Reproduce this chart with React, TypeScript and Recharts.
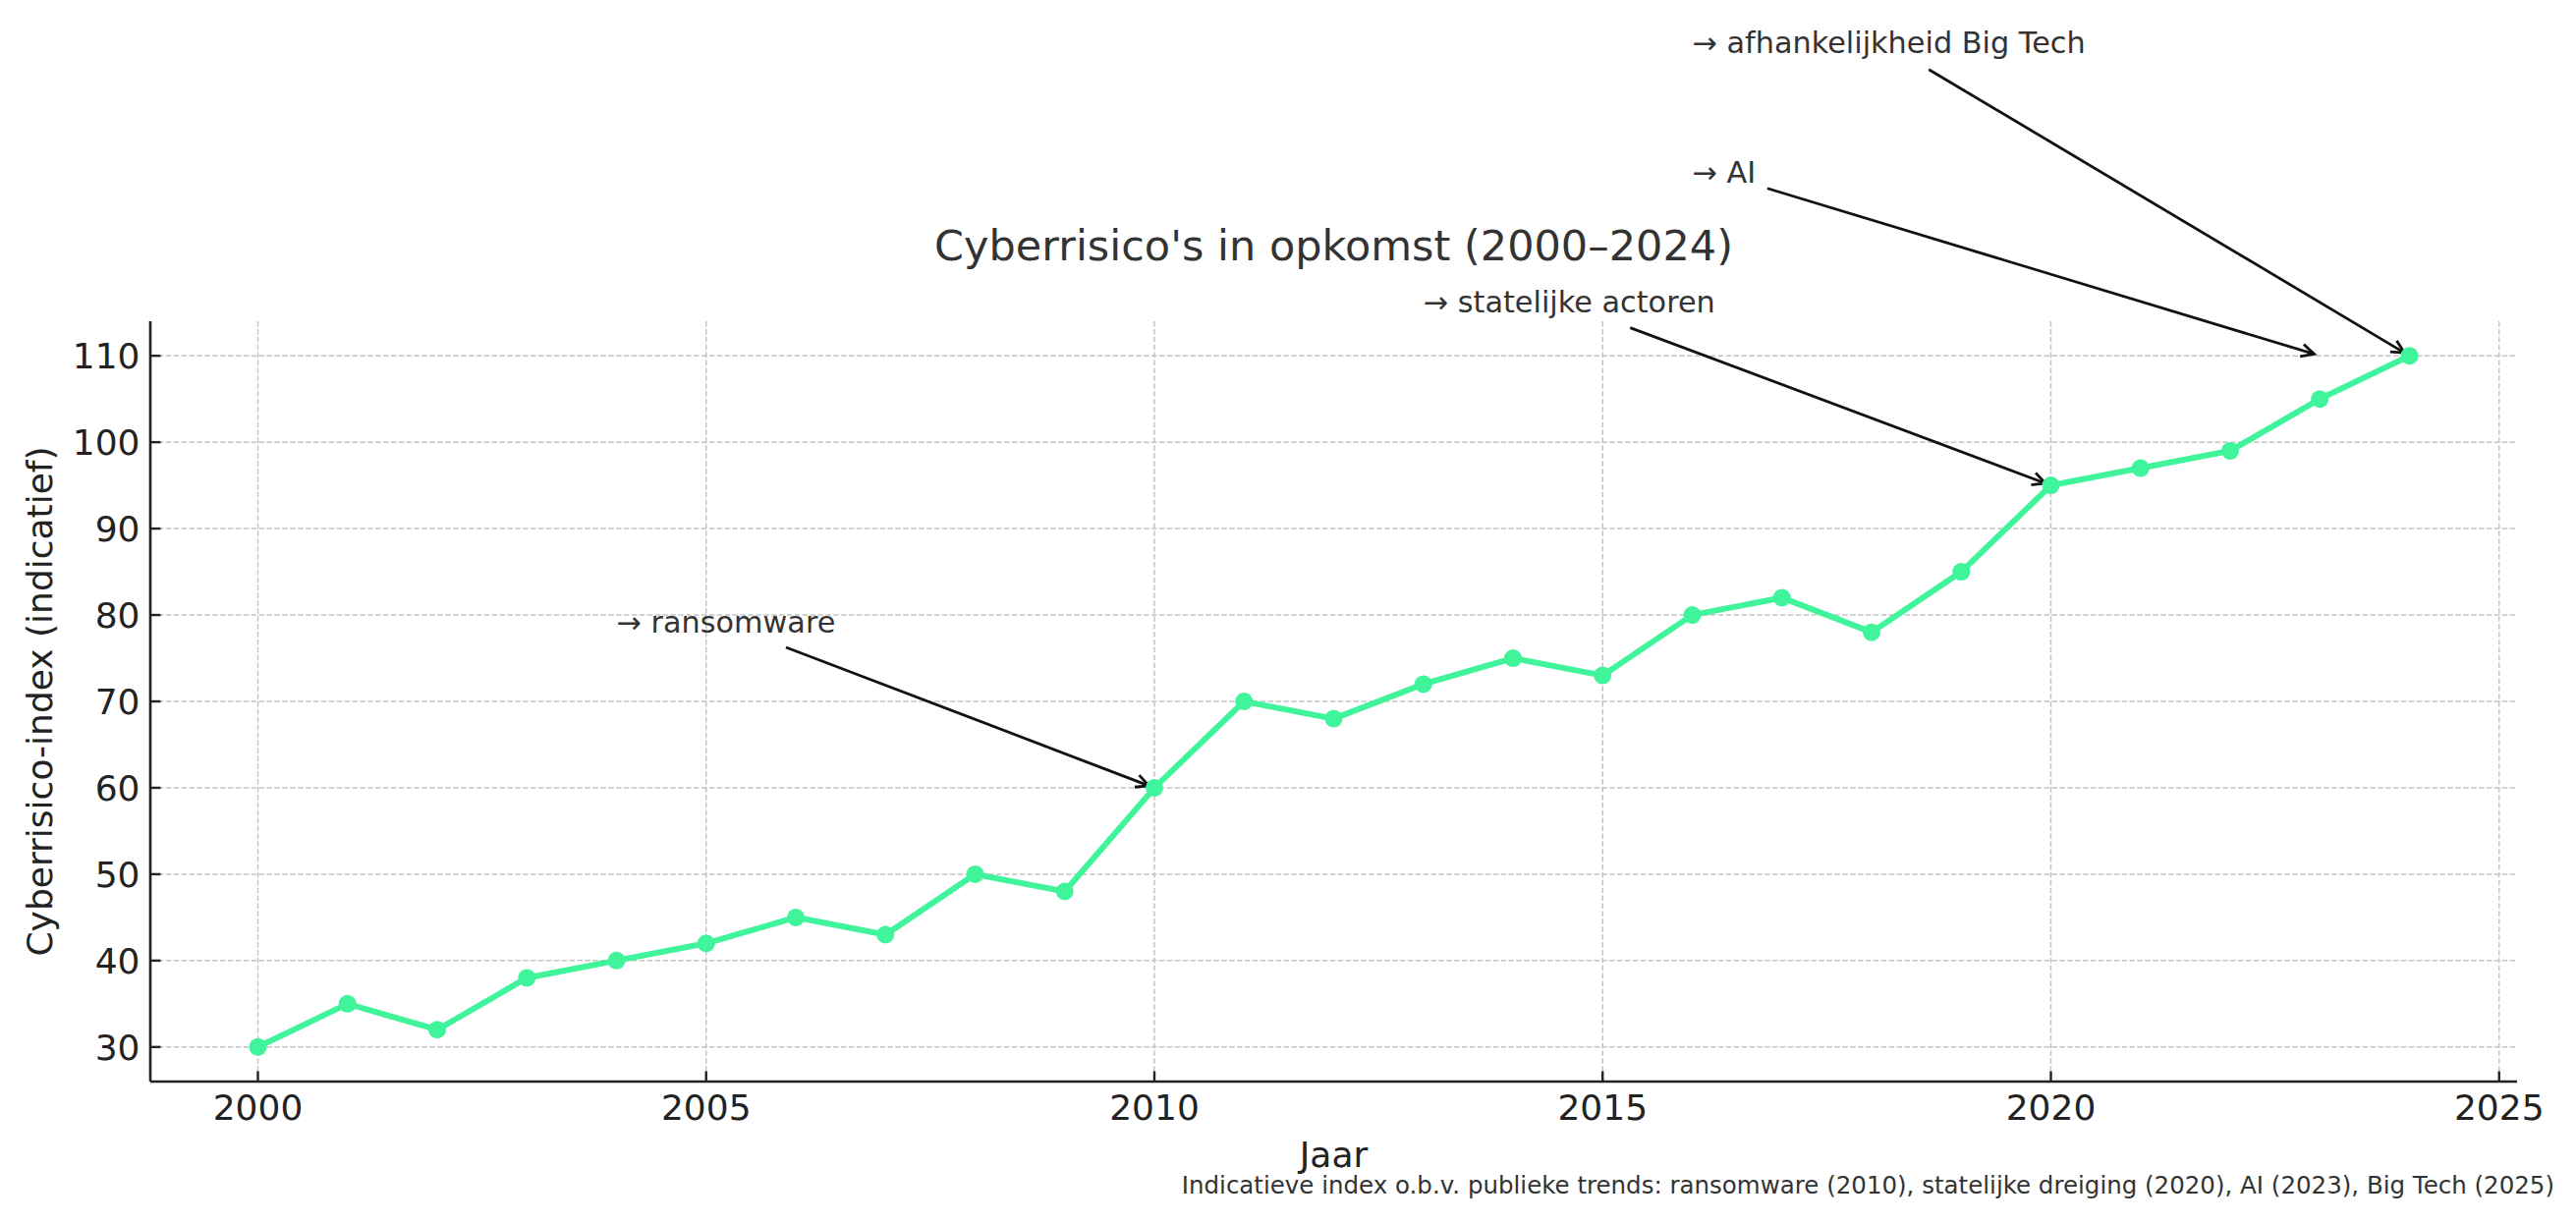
import React from 'react';
import { LineChart, Line, XAxis, YAxis, CartesianGrid, ReferenceLine } from 'recharts';

// ---- data ----
const years = [2000, 2001, 2002, 2003, 2004, 2005, 2006, 2007, 2008, 2009, 2010, 2011, 2012, 2013, 2014, 2015, 2016, 2017, 2018, 2019, 2020, 2021, 2022, 2023, 2024];
const riskIndex = [30, 35, 32, 38, 40, 42, 45, 43, 50, 48, 60, 70, 68, 72, 75, 73, 80, 82, 78, 85, 95, 97, 99, 105, 110];
const xTicks = [2000, 2005, 2010, 2015, 2020, 2025];
const yTicks = [30, 40, 50, 60, 70, 80, 90, 100, 110];

const annotationLabels = ['→ ransomware', '→ statelijke actoren', '→ AI', '→ afhankelijkheid Big Tech'];
const annotationTargetYears = [2010, 2020, 2023, 2024];
const annotationTargetValues = [60, 95, 110, 110];
const annotationTextYears = [2004, 2013, 2016, 2016];
const annotationTextValues = [78, 115, 130, 145];

const titleText = "Cyberrisico's in opkomst (2000–2024)";
const xLabelText = 'Jaar';
const yLabelText = 'Cyberrisico-index (indicatief)';
const footnoteText = 'Indicatieve index o.b.v. publieke trends: ransomware (2010), statelijke dreiging (2020), AI (2023), Big Tech (2025)';

const data = years.map((year, i) => ({ year, value: riskIndex[i] }));

// ---- styling ----
const W = 2622;
const H = 1246;
const FONT = '"DejaVu Sans", sans-serif';
const LINE_COLOR = '#3ff49b';
const TEXT_DARK = '#222222';
const TEXT_GREY = '#333333';
const PLOT_LEFT = 153;
const PLOT_TOP = 327;
const PLOT_RIGHT_MARGIN = 60;
const X_AXIS_H = 145;
const PLOT_CX = (PLOT_LEFT + (W - PLOT_RIGHT_MARGIN)) / 2;
const PLOT_CY = (PLOT_TOP + (H - X_AXIS_H)) / 2;

let ctx: CanvasRenderingContext2D | null = null;
function measure(text: string, size: number): number {
  if (!ctx) {
    const c = document.createElement('canvas');
    ctx = c.getContext('2d');
  }
  if (!ctx) return text.length * size * 0.55;
  ctx.font = `${size}px "DejaVu Sans"`;
  return ctx.measureText(text).width;
}

function XTick(props: any) {
  const { x, y, payload } = props;
  return (
    <g>
      <line x1={x} x2={x} y1={y} y2={y - 10.5} stroke="#222" strokeWidth={2.4} />
      <text x={x} y={y + 39} textAnchor="middle" fontSize={36} fontFamily={FONT} fill={TEXT_DARK}>
        {payload.value}
      </text>
    </g>
  );
}

function YTick(props: any) {
  const { x, y, payload } = props;
  return (
    <g>
      <line x1={x} x2={x + 10.5} y1={y} y2={y} stroke="#222" strokeWidth={2.4} />
      <text x={x - 10.5} y={y + 13} textAnchor="end" fontSize={36} fontFamily={FONT} fill={TEXT_DARK}>
        {payload.value}
      </text>
    </g>
  );
}

const makeAnnotation = (label: string) => (props: any) => {
  const { x1, y1, x2, y2 } = props;
  const fs = 30.3;
  const w = measure(label, fs);
  const cx = x1 + w / 2;
  const cy = y1 - ((0.76 - 0.24) / 2) * fs;
  const pad = 6;
  const left = x1 - pad;
  const right = x1 + w + pad;
  const top = y1 - 0.76 * fs - pad;
  const bottom = y1 + 0.24 * fs + pad;
  const dx = x2 - cx;
  const dy = y2 - cy;
  const len = Math.hypot(dx, dy) || 1;
  const ux = dx / len;
  const uy = dy / len;
  let t = Infinity;
  if (dx > 0) t = Math.min(t, (right - cx) / dx);
  else if (dx < 0) t = Math.min(t, (left - cx) / dx);
  if (dy > 0) t = Math.min(t, (bottom - cy) / dy);
  else if (dy < 0) t = Math.min(t, (top - cy) / dy);
  if (!isFinite(t)) t = 0;
  const shrink = 6;
  const sx = cx + dx * t + ux * shrink;
  const sy = cy + dy * t + uy * shrink;
  const ex = x2 - ux * shrink;
  const ey = y2 - uy * shrink;
  const hl = 13;
  const hw = 6.5;
  const bx = ex - ux * hl;
  const by = ey - uy * hl;
  const a1x = bx - uy * hw;
  const a1y = by + ux * hw;
  const a2x = bx + uy * hw;
  const a2y = by - ux * hw;
  return (
    <g>
      <text x={x1} y={y1} fontSize={fs} fontFamily={FONT} fill={TEXT_GREY}>
        {label}
      </text>
      <path d={`M${sx},${sy} L${ex},${ey}`} stroke="#111" strokeWidth={2.8} fill="none" />
      <path
        d={`M${a1x},${a1y} L${ex},${ey} L${a2x},${a2y}`}
        stroke="#111"
        strokeWidth={2.8}
        fill="none"
        strokeLinejoin="miter"
      />
    </g>
  );
};

export default function App() {
  return (
    <div style={{ position: 'absolute', left: 0, top: 0, width: W, height: H, background: '#fff' }}>
      <LineChart
        width={W}
        height={H}
        data={data}
        margin={{ top: PLOT_TOP, right: PLOT_RIGHT_MARGIN, left: 0, bottom: 0 }}
      >
        <CartesianGrid stroke="#c4c4c4" strokeWidth={1.5} strokeDasharray="5.5 2.4" syncWithTicks />
        <XAxis
          dataKey="year"
          type="number"
          domain={[1998.8, 2025.2]}
          allowDataOverflow
          ticks={xTicks}
          interval={0}
          height={X_AXIS_H}
          tickLine={false}
          tickSize={0}
          tickMargin={0}
          tick={<XTick />}
          axisLine={{ stroke: '#222', strokeWidth: 2.6 }}
        />
        <YAxis
          type="number"
          domain={[26, 114]}
          allowDataOverflow
          ticks={yTicks}
          interval={0}
          width={PLOT_LEFT}
          tickLine={false}
          tickSize={0}
          tickMargin={0}
          tick={<YTick />}
          axisLine={{ stroke: '#222', strokeWidth: 2.6 }}
        />
        <Line
          type="linear"
          dataKey="value"
          stroke={LINE_COLOR}
          strokeWidth={6}
          dot={{ r: 9, fill: LINE_COLOR, stroke: LINE_COLOR, strokeWidth: 0 }}
          activeDot={false}
          isAnimationActive={false}
        />
        {annotationLabels.map((label, i) => (
          <ReferenceLine
            key={label}
            segment={[
              { x: annotationTextYears[i], y: annotationTextValues[i] },
              { x: annotationTargetYears[i], y: annotationTargetValues[i] },
            ]}
            ifOverflow="visible"
            shape={makeAnnotation(label)}
          />
        ))}
        <text x={PLOT_CX} y={265} textAnchor="middle" fontSize={43} fontFamily={FONT} fill={TEXT_GREY}>
          {titleText}
        </text>
        <text x={PLOT_CX} y={1188} textAnchor="middle" fontSize={36} fontFamily={FONT} fill={TEXT_DARK}>
          {xLabelText}
        </text>
        <text
          x={53}
          y={PLOT_CY}
          textAnchor="middle"
          fontSize={36}
          fontFamily={FONT}
          fill={TEXT_DARK}
          transform={`rotate(-90 53 ${PLOT_CY})`}
        >
          {yLabelText}
        </text>
        <text x={2600} y={1215} textAnchor="end" fontSize={24.5} fontFamily={FONT} fill={TEXT_GREY}>
          {footnoteText}
        </text>
      </LineChart>
    </div>
  );
}
